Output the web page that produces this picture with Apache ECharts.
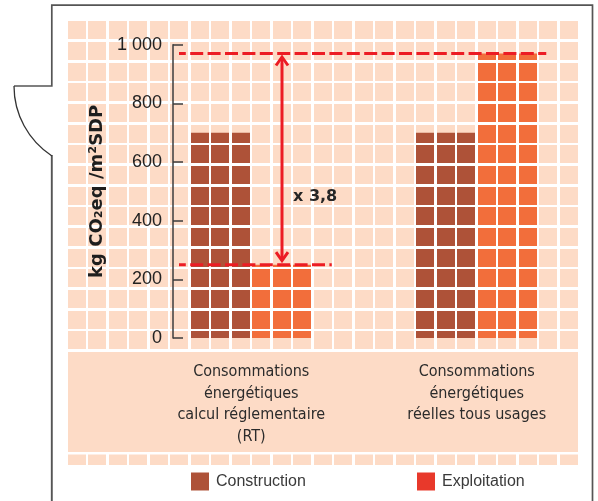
<!DOCTYPE html>
<html lang="fr">
<head>
<meta charset="utf-8">
<title>Construction et exploitation – kg CO₂eq /m²SDP</title>
<script src="https://cdn.jsdelivr.net/npm/echarts@6.0.0/dist/echarts.min.js"></script>
<style>
  html, body { margin: 0; padding: 0; background: #ffffff; }
  #chart { width: 598px; height: 501px; }
</style>
</head>
<body>
<div id="chart"></div>
<script>
// Categories on the horizontal axis
const categories = [
  'Consommations\nénergétiques\ncalcul réglementaire\n(RT)',
  'Consommations\nénergétiques\nréelles tous usages'
];
// Emissions in kg CO2eq per m² SDP
const construction = [700, 700];
const exploitation = [250, 970];
const seriesNames = ['Construction', 'Exploitation'];
// Vertical axis ticks
const yTickValues = [0, 200, 400, 600, 800, 1000];
const yTickLabels = ['0', '200', '400', '600', '800', '1 000'];
const yAxisTitle = 'kg CO₂eq /m²SDP';
const ratioText = 'x 3,8';

// ---- styling ----
const PEACH = '#FDDBC6';
const BROWN = '#AE5238';
const ORANGE = '#F26E3B';
const RED = '#EC1C24';
const LEGEND_RED = '#E8392B';
const FRAME = '#555555';
const TEXT = '#262626';

const BAR_W = 61.5;       // one bar covers three tiles
const AXIS_SHIFT = 34.5;  // y axis sits inside the grid's left edge

// ---- tiled backdrop ----
const TILE = 18;
const NCOLS = 25, NROWS = 16;
const colStart = k => Math.floor(68.25 + 20.5 * k);
const rowStart = k => Math.round(21.2 + 20.67 * k);
const tileLeft = colStart(0);
const tileRight = colStart(NCOLS - 1) + TILE;
const tileTop = rowStart(0);
const tileBottom = 465;
const bandTop = 352, bandBottom = 452;

const deco = [];
deco.push({
  type: 'rect', z: 0, silent: true,
  shape: { x: tileLeft, y: tileTop, width: tileRight - tileLeft, height: tileBottom - tileTop },
  style: { fill: PEACH }
});
for (let k = 0; k < NCOLS - 1; k++) {
  const x = colStart(k) + TILE;
  deco.push({
    type: 'rect', z: 3, silent: true,
    shape: { x: x, y: tileTop, width: colStart(k + 1) - x, height: tileBottom - tileTop },
    style: { fill: '#ffffff' }
  });
}
for (let k = 0; k < NROWS - 1; k++) {
  const y = rowStart(k) + TILE;
  deco.push({
    type: 'rect', z: 3, silent: true,
    shape: { x: tileLeft, y: y, width: tileRight - tileLeft, height: rowStart(k + 1) - y },
    style: { fill: '#ffffff' }
  });
}
// white seams around the label band
deco.push({
  type: 'rect', z: 3, silent: true,
  shape: { x: tileLeft, y: rowStart(NROWS - 1) + TILE, width: tileRight - tileLeft, height: bandTop - (rowStart(NROWS - 1) + TILE) },
  style: { fill: '#ffffff' }
});
deco.push({
  type: 'rect', z: 3, silent: true,
  shape: { x: tileLeft, y: bandBottom, width: tileRight - tileLeft, height: 2.5 },
  style: { fill: '#ffffff' }
});
// solid band behind the category labels
deco.push({
  type: 'rect', z: 4, silent: true,
  shape: { x: tileLeft, y: bandTop, width: tileRight - tileLeft, height: bandBottom - bandTop },
  style: { fill: PEACH }
});
// outer frame with the door swing
deco.push({
  type: 'polyline', z: 20, silent: true,
  shape: { points: [[14, 86], [51.8, 86], [51.8, 5.2], [592.5, 5.2], [592.5, 501]] },
  style: { stroke: FRAME, lineWidth: 1.7, fill: null }
});
deco.push({
  type: 'line', z: 20, silent: true,
  shape: { x1: 51.8, y1: 155, x2: 51.8, y2: 501 },
  style: { stroke: FRAME, lineWidth: 1.9 }
});
deco.push({
  type: 'arc', z: 20, silent: true,
  shape: { cx: 97.5, cy: 86, r: 83.5, startAngle: 2.148, endAngle: Math.PI, clockwise: true },
  style: { stroke: '#333333', lineWidth: 1.3, fill: null }
});

// ---- ratio annotation: dashed levels and double arrow ----
function renderRatio(params, api) {
  const low = api.coord([0, api.value(1)]);
  const high = api.coord([1, api.value(2)]);
  const cs = params.coordSys;
  const axisX = cs.x + AXIS_SHIFT;
  const lowY = low[1], highY = high[1];
  const arrowX = low[0] + BAR_W / 2;
  const dash = { stroke: RED, lineWidth: 3, lineDash: [13, 4.4], lineDashOffset: 6.2 };
  const arrowStyle = { stroke: RED, lineWidth: 3, fill: null, lineJoin: 'miter' };
  const topTip = highY + 3.5, botTip = lowY - 4;
  return {
    type: 'group',
    children: [
      { type: 'line', shape: { x1: axisX + 6, y1: lowY, x2: low[0] + BAR_W + 19, y2: lowY }, style: dash },
      { type: 'line', shape: { x1: axisX + 6, y1: highY, x2: high[0] + BAR_W + 8, y2: highY }, style: dash },
      { type: 'line', shape: { x1: arrowX, y1: topTip + 2, x2: arrowX, y2: botTip - 2 }, style: arrowStyle },
      { type: 'polyline', shape: { points: [[arrowX - 6, topTip + 8.5], [arrowX, topTip], [arrowX + 6, topTip + 8.5]] }, style: arrowStyle },
      { type: 'polyline', shape: { points: [[arrowX - 6, botTip - 8.5], [arrowX, botTip], [arrowX + 6, botTip - 8.5]] }, style: arrowStyle },
      {
        type: 'text',
        style: {
          text: ratioText, x: arrowX + 11, y: highY + 0.68 * (lowY - highY),
          fill: TEXT, fontSize: 16, fontWeight: 'bold', fontFamily: '"DejaVu Sans", sans-serif',
          align: 'left', verticalAlign: 'middle'
        }
      }
    ]
  };
}

const legendBase = {
  top: 472.5, padding: 0, itemWidth: 18, itemHeight: 18, icon: 'rect',
  selectedMode: false,
  textStyle: { fontSize: 16, color: '#3a3a3a', fontFamily: '"Liberation Sans", Arial, sans-serif', padding: [0, 0, 0, 2] }
};

const chart = echarts.init(document.getElementById('chart'), null, { renderer: 'canvas' });
chart.setOption({
  animation: false,
  backgroundColor: '#ffffff',
  graphic: { elements: deco },
  grid: { left: 138.5, width: 451, top: 44.7, bottom: 163, containLabel: false, outerBoundsMode: 'none' },
  legend: [
    Object.assign({}, legendBase, { left: 191, data: [{ name: seriesNames[0] }] }),
    Object.assign({}, legendBase, { left: 417, data: [{ name: seriesNames[1], itemStyle: { color: LEGEND_RED } }] })
  ],
  xAxis: {
    type: 'category', data: categories, z: 10,
    axisLine: { show: false }, axisTick: { show: false }, splitLine: { show: false },
    axisLabel: {
      interval: 0, margin: 23, fontSize: 16, lineHeight: 21.7, color: '#2b2b2b',
      fontFamily: '"DejaVu Sans Condensed", "Liberation Sans Narrow", sans-serif'
    }
  },
  yAxis: {
    type: 'value', min: 0, max: 1000, interval: 200, offset: -AXIS_SHIFT, z: 10,
    name: yAxisTitle, nameLocation: 'middle', nameRotate: 90, nameGap: 64,
    nameTextStyle: { fontFamily: '"DejaVu Sans", sans-serif', fontWeight: 'bold', fontSize: 18, color: '#1e1e1e' },
    axisLine: { show: true, lineStyle: { color: '#3c3c3c', width: 1.5 } },
    axisTick: { show: true, inside: true, length: 10, lineStyle: { color: '#3c3c3c', width: 1.5 } },
    axisLabel: {
      margin: 11, fontSize: 18, color: '#222222', fontFamily: '"Liberation Sans", Arial, sans-serif',
      formatter: v => yTickLabels[yTickValues.indexOf(v)]
    },
    splitLine: { show: false }
  },
  series: [
    { name: seriesNames[0], type: 'bar', data: construction, barWidth: BAR_W, barGap: '0%', z: 2, itemStyle: { color: BROWN } },
    { name: seriesNames[1], type: 'bar', data: exploitation, barWidth: BAR_W, barGap: '0%', z: 2, itemStyle: { color: ORANGE } },
    {
      type: 'custom', z: 12, silent: true,
      encode: { x: 0, y: [1, 2] },
      data: [[0, exploitation[0], exploitation[1]]],
      renderItem: renderRatio
    }
  ]
});
</script>
</body>
</html>
